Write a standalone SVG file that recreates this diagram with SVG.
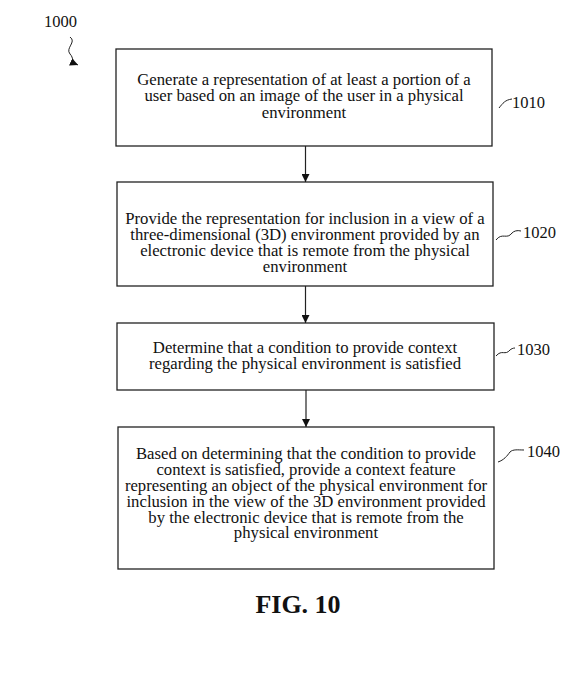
<svg xmlns="http://www.w3.org/2000/svg" width="571" height="679" viewBox="0 0 571 679">
<defs>
<style>
.box{fill:#fff;stroke:#222;stroke-width:1.3}
.t{font-family:"Liberation Serif","Times New Roman",serif;font-size:15.8px;fill:#111;text-anchor:middle}
.lbl{font-family:"Liberation Serif","Times New Roman",serif;font-size:16.5px;fill:#111}
.sq{fill:none;stroke:#222;stroke-width:1}
.conn{stroke:#222;stroke-width:1.2;fill:none}
.fig{font-family:"Liberation Serif","Times New Roman",serif;font-size:26px;font-weight:bold;fill:#111;text-anchor:middle}
</style>
<marker id="ah" viewBox="0 0 10 10" refX="10" refY="5" markerWidth="8" markerHeight="8" markerUnits="userSpaceOnUse" orient="auto">
<path d="M0,0 L10,5 L0,10 z" fill="#111"/>
</marker>
</defs>
<rect width="571" height="679" fill="#fff"/>
<g id="ref1000">
<text class="lbl" x="44" y="27">1000</text>
<path class="sq" d="M70,37 C77,42 65,48 70,54 C74,58 71,62 78,65" marker-end="url(#ah)"/>
</g>
<g id="n1010">
<rect class="box" x="116" y="49" width="376" height="97"/>
<g transform="translate(304,0) scale(1.058,1) translate(-304,0)">
<text class="t" x="304" y="85">Generate a representation of at least a portion of a</text>
<text class="t" x="304" y="101.5">user based on an image of the user in a physical</text>
<text class="t" x="304" y="118">environment</text>
</g>
<path class="sq" d="M499,108 C503,103 505,100 512,99"/>
<text class="lbl" x="512" y="108">1010</text>
</g>
<g id="n1020">
<rect class="box" x="117" y="182" width="376" height="104"/>
<g transform="translate(305,0) scale(1.058,1) translate(-305,0)">
<text class="t" x="305" y="224.5">Provide the representation for inclusion in a view of a</text>
<text class="t" x="305" y="240.3">three-dimensional (3D) environment provided by an</text>
<text class="t" x="305" y="256.1">electronic device that is remote from the physical</text>
<text class="t" x="305" y="271.9">environment</text>
</g>
<path class="sq" d="M496,240 C502,232 507,240 512,233 C514,231 517,230 521,231"/>
<text class="lbl" x="523" y="238">1020</text>
</g>
<g id="n1030">
<rect class="box" x="117" y="323" width="377" height="67"/>
<g transform="translate(305,0) scale(1.058,1) translate(-305,0)">
<text class="t" x="305" y="353">Determine that a condition to provide context</text>
<text class="t" x="305" y="368.8">regarding the physical environment is satisfied</text>
</g>
<path class="sq" d="M496,356 C502,349 505,356 510,350 C511,349 513,348 515,348"/>
<text class="lbl" x="517" y="355">1030</text>
</g>
<g id="n1040">
<rect class="box" x="118" y="427" width="376" height="142"/>
<g transform="translate(306,0) scale(1.058,1) translate(-306,0)">
<text class="t" x="306" y="459.5">Based on determining that the condition to provide</text>
<text class="t" x="306" y="475.3">context is satisfied, provide a context feature</text>
<text class="t" x="306" y="491.1">representing an object of the physical environment for</text>
<text class="t" x="306" y="506.9">inclusion in the view of the 3D environment provided</text>
<text class="t" x="306" y="522.7">by the electronic device that is remote from the</text>
<text class="t" x="306" y="538.5">physical environment</text>
</g>
<path class="sq" d="M498,462 C504,460 507,456 510,452 C513,449 518,450 524,450"/>
<text class="lbl" x="527" y="457">1040</text>
</g>
<g id="connectors">
<line class="conn" x1="305.5" y1="146" x2="305.5" y2="182" marker-end="url(#ah)"/>
<line class="conn" x1="305.5" y1="286" x2="305.5" y2="323" marker-end="url(#ah)"/>
<line class="conn" x1="306" y1="390" x2="306" y2="427" marker-end="url(#ah)"/>
</g>
<text class="fig" x="298" y="613">FIG. 10</text>
</svg>
